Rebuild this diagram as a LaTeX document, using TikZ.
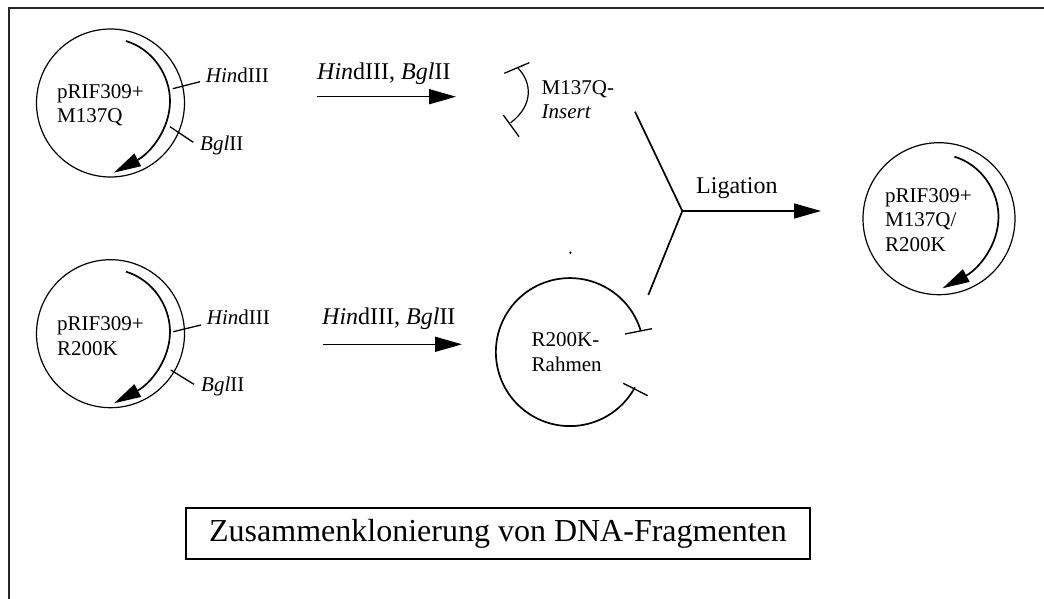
\documentclass[tikz,border=0pt]{standalone}
\usepackage{fontspec}
\setmainfont{Liberation Serif}
\usetikzlibrary{positioning,arrows.meta}
\tikzset{
plasmid/.style={draw,circle,line width=1.2pt,inner sep=0pt,minimum size=#1},
ring/.style={line width=1.7pt,-{Triangle[length=27pt,width=14pt]}},
reaction/.style={line width=1.5pt,-{Triangle[length=27pt,width=15pt]}},
cut/.style={line width=1.3pt},
dnatext/.style={font=\fontsize{21}{24.5}\selectfont,align=left,inner sep=0pt,anchor=west},
enzyme/.style={font=\fontsize{24}{26}\selectfont,inner sep=0pt,anchor=west},
}
\newcommand{\ringarc}[1]{\draw[ring,shift={(#1)}] (15.5,-62) .. controls (42,-54) and (59.5,-28) .. (59.5,-2) .. controls (59.5,26) and (40,50) .. (3.5,69.6);}
\begin{document}
\begin{tikzpicture}[x=1pt,y=-1pt,on grid]
\useasboundingbox (0,0) rectangle (1044,599);
\coordinate (fa) at (9,599);
\coordinate (fb) at (9,8);
\coordinate (fc) at (1044,8);
\draw[line width=1.8pt,black!85] (fa)--(fb)--(fc);
\node[plasmid=148pt] (p1) at (110.5,103) {};
\node[plasmid=148pt,below=230.7pt of p1] (p2) {};
\node[plasmid=152pt] (p3) at (939,218.7) {};
\ringarc{p1}
\ringarc{p2}
\ringarc{p3}
\node[dnatext] (t1) at (57,105) {pRIF309+\\M137Q};
\node[dnatext] (t2) at (57,336) {pRIF309+\\R200K};
\node[dnatext] (t3) at (885,220) {pRIF309+\\M137Q/\\R200K};
%first plasmid sites
\coordinate (h1) at (172.7,88.7);
\node[dnatext] (h1l) at (205.7,75) {\textit{Hin}dIII};
\coordinate (b1) at (170,126.7);
\node[dnatext] (b1l) at (200,145) {\textit{Bgl}II};
\coordinate (h1e) at (200,81.7);
\coordinate (b1e) at (193.3,142.3);
\draw[cut] (h1)--(h1e);
\draw[cut] (b1)--(b1e);
%second plasmid sites
\coordinate (h2) at (173.3,331.7);
\node[dnatext] (h2l) at (206.7,317.7) {\textit{Hin}dIII};
\coordinate (b2) at (170.7,370);
\node[dnatext] (b2l) at (201,386.7) {\textit{Bgl}II};
\coordinate (h2e) at (201,325);
\coordinate (b2e) at (194,384.3);
\draw[cut] (h2)--(h2e);
\draw[cut] (b2)--(b2e);
%digest arrows
\coordinate (a1) at (316.7,96.7);
\coordinate[right=139.3pt of a1] (a2);
\coordinate (a3) at (322.7,344.3);
\coordinate[right=139.3pt of a3] (a4);
\draw[reaction] (a1)--(a2);
\draw[reaction] (a3)--(a4);
\node[enzyme] (e1) at (317,74) {\textit{Hin}dIII, \textit{Bgl}II};
\node[enzyme] (e2) at (322,319) {\textit{Hin}dIII, \textit{Bgl}II};
%insert
\coordinate (i1) at (517.3,67.3);
\coordinate (i2) at (510.7,122.7);
\draw[line width=1.2pt] (i1) .. controls (532,82) and (534,105) .. (i2);
\coordinate (i3) at (504.3,73.3);
\coordinate (i4) at (529.3,62.7);
\coordinate (i5) at (503.3,115);
\coordinate (i6) at (519,136.7);
\draw[cut] (i3)--(i4);
\draw[cut] (i5)--(i6);
\node[dnatext] (ins) at (541.5,99.5) {M137Q-\\\textit{Insert}};
%frame
\coordinate (r1) at (640.7,330.7);
\draw[line width=1.7pt] (r1) arc[start angle=-16.8,end angle=-331.6,radius=74];
\coordinate (r3) at (625,334);
\coordinate (r4) at (652,328.7);
\coordinate (r5) at (623.3,383.3);
\coordinate (r6) at (647.7,395.7);
\draw[cut] (r3)--(r4);
\draw[cut] (r5)--(r6);
\node[dnatext] (rah) at (531.5,352) {R200K-\\Rahmen};
\node[fill,circle,inner sep=0pt,minimum size=2.5pt] (dot) at (570.3,252.7) {};
%ligation
\coordinate (y) at (682.3,211);
\coordinate (y1) at (635,111.7);
\coordinate (y2) at (648.3,295);
\coordinate[right=138.7pt of y] (y3);
\draw[line width=1.7pt] (y1)--(y)--(y2);
\draw[reaction] (y)--(y3);
\node[enzyme] (lig) at (696,188) {Ligation};
\node[draw,line width=2pt,font=\fontsize{32}{36}\selectfont,minimum width=624pt,minimum height=51pt] (title) at (498,533.5) {Zusammenklonierung von DNA-Fragmenten};
\end{tikzpicture}
\end{document}
